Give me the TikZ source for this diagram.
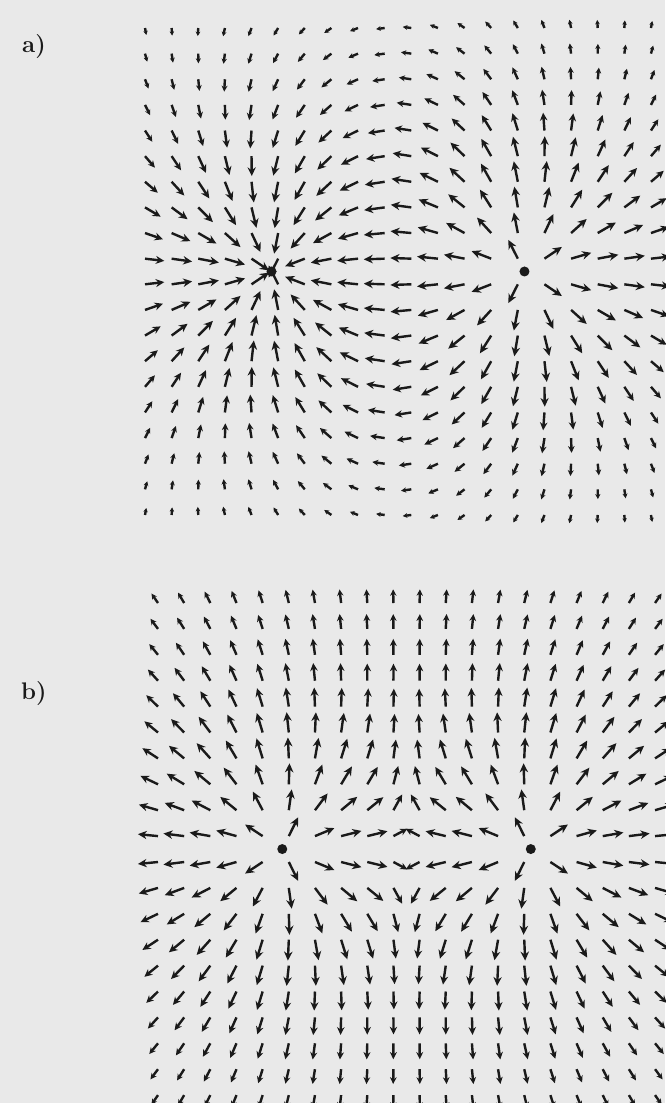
\documentclass[tikz,border=0pt]{standalone}
\usepackage{tikz}
\usetikzlibrary{arrows.meta}
\definecolor{paper}{HTML}{E9E9E9}
\definecolor{ink}{HTML}{1A1A1A}

\begin{document}
\begin{tikzpicture}[x=1pt, y=-1pt,
  fieldarrow/.style={ink, line width=2.4pt},
  charge/.style={circle, fill=ink, inner sep=0pt, minimum size=10pt},
  panel/.style={ink, font=\fontsize{24}{28}\selectfont\bfseries}]
\fill[paper] (0,0) rectangle (665,1103);
\useasboundingbox (0,0) rectangle (665,1103);

% field of two charges at (-1,0) and (1,0), grid -2..2, 20x20
\foreach \px/\py/\sx/\sy/\qa/\qb in {145/28/26.63/25.63/-1/1, 158/603/26.16/25.9/1/1} {
  \foreach \i in {0,...,19} {
    \foreach \j in {0,...,19} {
      \pgfmathsetmacro{\u}{-2+4*\i/19}
      \pgfmathsetmacro{\v}{2-4*\j/19}
      \pgfmathsetmacro{\ra}{pow((\u+1)*(\u+1)+\v*\v,1.5)}
      \pgfmathsetmacro{\rb}{pow((\u-1)*(\u-1)+\v*\v,1.5)}
      \pgfmathsetmacro{\ex}{\qa*(\u+1)/\ra+\qb*(\u-1)/\rb}
      \pgfmathsetmacro{\ey}{\qa*\v/\ra+\qb*\v/\rb}
      \pgfmathsetmacro{\en}{max(sqrt(\ex*\ex+\ey*\ey),0.0001)}
      \pgfmathsetmacro{\len}{21*(1-exp(-min(\en/0.34,20)))}
      \pgfmathsetmacro{\hl}{0.36*\len+1.5}
      \pgfmathsetmacro{\hw}{0.3*\len+2.2}
      \draw[fieldarrow, -{Stealth[length=\hl pt, width=\hw pt]}]
        (\px+\i*\sx, \py+\j*\sy) -- ++(\len*\ex/\en, -\len*\ey/\en);
    }
  }
}

% charges
\node[charge] (sinkA) at (145+4.75*26.63, 28+9.5*25.63) {};
\node[charge] (sourceA) at (145+14.25*26.63, 28+9.5*25.63) {};
\node[charge] (sourceB1) at (158+4.75*26.16, 603+9.5*25.9) {};
\node[charge] (sourceB2) at (158+14.25*26.16, 603+9.5*25.9) {};

% panel labels
\node[panel] (labelA) at (34,47) {a)};
\node[panel] (labelB) at (34,694) {b)};
\end{tikzpicture}
\end{document}
